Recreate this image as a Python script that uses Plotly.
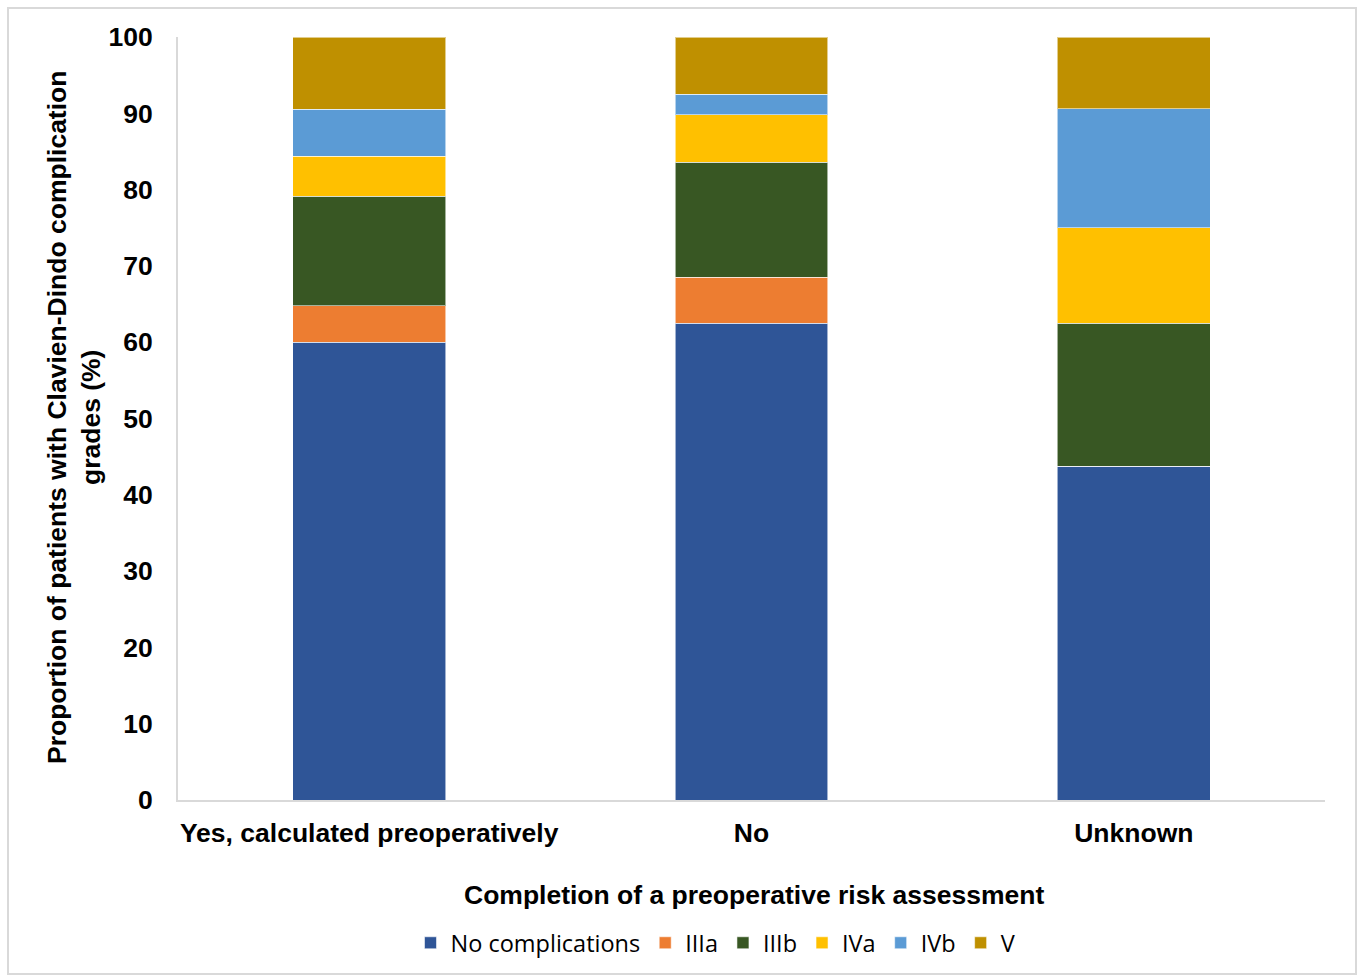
import plotly.graph_objects as go

categories = ["Yes, calculated preoperatively", "No", "Unknown"]
grades = ["No complications", "IIIa", "IIIb", "IVa", "IVb", "V"]
no_complications = [60.0, 62.5, 43.75]
grade_IIIa = [4.75, 6.0, 0.0]
grade_IIIb = [14.35, 15.1, 18.75]
grade_IVa = [5.25, 6.2, 12.5]
grade_IVb = [6.15, 2.7, 15.625]
grade_V = [9.5, 7.5, 9.375]

series = [no_complications, grade_IIIa, grade_IIIb, grade_IVa, grade_IVb, grade_V]
colors = ["#2F5597", "#ED7D31", "#385723", "#FFC000", "#5B9BD5", "#BF9000"]

W, H = 1362, 978
L, R, T, B = 178, 37, 37, 178
pw, ph = W - L - R, H - T - B

def px_x(x):
    return (x - L) / pw

def px_y(y):
    return (H - B - y) / ph

fig = go.Figure()
for name, vals, col in zip(grades, series, colors):
    fig.add_trace(go.Bar(
        x=categories, y=vals, name=name,
        marker=dict(color=col, line=dict(color="rgba(255,255,255,0.55)", width=1)),
        width=0.4,
    ))

FONT = "Liberation Sans, Arial, sans-serif"
bold = dict(family=FONT, size=26.5, color="#000000", weight="bold")

fig.update_layout(
    barmode="stack",
    width=W, height=H,
    margin=dict(l=L, r=R, t=T, b=B),
    paper_bgcolor="white", plot_bgcolor="white",
    showlegend=True,
    legend=dict(
        orientation="h", x=px_x(716), xanchor="center", y=px_y(943), yanchor="middle",
        font=dict(family="Open Sans, Noto Sans, sans-serif", size=23.5, color="#000000"),
        itemwidth=30, traceorder="normal", itemclick=False,
    ),
    xaxis=dict(
        showline=True, linecolor="#D9D9D9", linewidth=2,
        showgrid=False, ticks="", tickfont=bold,
        ticklabelstandoff=8, fixedrange=True,
    ),
    yaxis=dict(
        range=[0, 100], tickvals=list(range(0, 101, 10)),
        showline=True, linecolor="#D9D9D9", linewidth=2,
        showgrid=False, zeroline=False, ticks="",
        tickfont=bold, ticklabelstandoff=18,
    ),
    font=dict(family=FONT),
)

fig.add_annotation(
    text="<b>Completion of a preoperative risk assessment</b>",
    xref="paper", yref="paper", x=px_x(754), y=px_y(895),
    xanchor="center", yanchor="middle", showarrow=False,
    font=dict(family=FONT, size=26.5, color="#000000"),
)
fig.add_annotation(
    text="<b>Proportion of patients with Clavien-Dindo complication<br>grades (%)</b>",
    xref="paper", yref="paper", x=px_x(74), y=px_y(418),
    xanchor="center", yanchor="middle", showarrow=False, textangle=-90,
    font=dict(family=FONT, size=26.5, color="#000000"),
)

# outer chart frame
fig.add_shape(
    type="rect", xref="paper", yref="paper",
    x0=px_x(8), x1=px_x(1356), y0=px_y(974), y1=px_y(8),
    line=dict(color="#D9D9D9", width=2), fillcolor="rgba(0,0,0,0)", layer="below",
)

fig.write_html("out.html")
